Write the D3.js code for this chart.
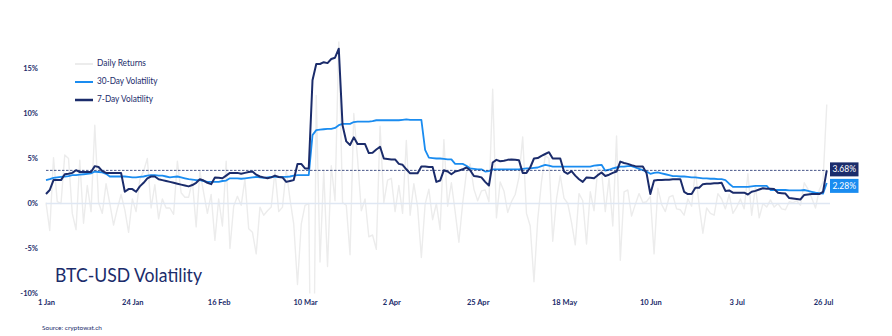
<!DOCTYPE html>
<html>
<head>
<meta charset="utf-8">
<script src="https://cdn.jsdelivr.net/npm/d3@7"></script>
<style>
  html, body { margin: 0; padding: 0; background: #fff; }
  svg { display: block; font-family: Lato, "Open Sans", sans-serif; }
</style>
</head>
<body>
<svg id="chart" width="892" height="336"></svg>
<script>
// ---- Data (daily, 1 Jan 2020 .. 27 Jul 2020), values in % ----
const startDate = "2020-01-01";

const dailyReturns = [
  0.1,-3.0,5.1,0.2,0.0,5.4,5.0,-1.1,-2.9,4.8,-2.2,2.0,-0.9,8.7,0.1,-1.1,2.2,0.0,-2.4,-0.6,
  1.0,-0.7,-3.2,0.5,-0.9,2.7,3.6,5.0,-0.5,2.1,-1.7,0.5,-0.5,-0.5,-1.2,4.7,1.2,0.7,0.7,2.5,
  -2.6,3.6,1.2,-1.1,1.0,-4.1,0.5,-2.5,4.7,-5.0,-0.3,0.8,-0.2,2.7,-2.8,-3.2,-5.6,-0.4,-1.3,-0.8,
  -0.4,3.6,-0.9,-0.4,3.7,0.5,-2.3,-9.0,-2.3,-0.2,0.0,-37.0,12.0,-6.5,3.7,-7.0,4.2,0.3,18.2,0.1,
  -0.2,-5.7,10.0,5.0,-0.8,0.5,-3.7,-3.5,-5.1,8.6,0.1,2.6,2.8,-0.9,2.0,-1.1,7.0,-1.3,2.2,-0.4,
  -6.0,-0.1,1.6,-1.8,0.0,-2.9,7.1,-0.3,2.3,-0.9,-4.3,0.0,3.4,4.4,1.6,0.3,1.4,1.5,0.2,12.7,
  -1.6,2.4,1.4,-1.0,0.2,1.0,2.9,7.4,-1.1,-2.5,-8.7,-1.8,2.4,5.3,5.0,-4.2,0.5,3.1,0.6,0.0,
  -2.1,-4.6,1.1,0.3,-4.5,1.3,-0.8,3.9,3.7,-0.9,2.8,-2.5,7.5,-6.3,1.3,1.5,-1.4,-0.1,1.1,0.1,
  0.2,0.8,-5.6,1.7,-0.1,-0.9,0.7,0.9,-0.6,-0.7,-1.3,0.5,-0.3,3.7,-0.2,-3.3,-0.5,-1.1,-1.3,1.1,
  0.5,-0.6,1.0,-1.1,-0.4,0.5,-0.6,3.3,-1.3,1.9,-1.6,0.0,-0.4,0.4,-0.4,0.0,-0.6,-0.7,0.2,0.1,
  0.3,-0.2,2.3,1.6,0.6,-0.5,1.5,2.4,11.0
];

const vol30 = [
  2.6,2.7,2.85,2.9,2.95,3.0,3.05,3.15,3.15,3.2,3.25,3.3,3.35,3.55,3.5,3.45,3.3,3.0,3.0,3.0,
  3.0,3.0,2.95,2.9,2.9,2.95,3.0,3.1,3.15,3.15,3.1,3.1,3.0,2.9,2.95,3.0,2.9,2.8,2.7,2.65,
  2.6,2.6,2.5,2.4,2.4,2.4,2.4,2.5,2.55,2.8,2.8,2.8,2.75,2.8,2.85,2.9,2.95,2.9,2.85,2.9,
  2.95,2.95,2.95,2.95,2.95,3.0,3.1,3.15,3.15,3.15,3.15,7.6,8.15,8.2,8.25,8.3,8.3,8.4,8.7,8.85,
  8.85,8.85,9.05,9.1,9.1,9.1,9.1,9.15,9.25,9.25,9.25,9.25,9.25,9.25,9.25,9.3,9.35,9.3,9.3,9.3,
  9.3,5.95,5.1,5.05,5.0,5.0,4.95,4.9,4.9,4.4,4.4,4.4,4.2,3.9,3.85,3.8,3.8,3.55,3.6,3.8,
  3.8,3.8,3.8,3.8,3.8,3.8,3.8,3.85,3.9,3.9,3.95,4.0,4.15,4.3,4.2,4.1,4.1,4.1,4.1,4.1,
  4.1,4.1,4.1,4.1,4.1,4.1,4.2,4.25,4.3,3.65,3.75,3.9,4.0,4.1,4.1,4.15,4.15,4.0,3.85,3.7,
  3.55,3.3,3.4,3.45,3.35,3.25,3.15,3.05,3.05,3.0,3.0,2.95,2.9,2.9,2.85,2.8,2.8,2.75,2.75,2.7,
  2.7,2.6,2.2,1.85,1.85,1.85,1.85,1.85,1.9,1.95,1.95,1.95,1.95,1.5,1.5,1.5,1.5,1.5,1.45,1.45,
  1.45,1.45,1.5,1.4,1.3,1.2,1.15,1.1,2.28
];

const vol7 = [
  1.06,1.5,2.6,2.6,2.6,3.25,3.3,3.4,3.7,3.5,3.5,3.5,3.5,4.15,4.05,3.6,3.4,3.4,3.4,3.4,
  3.4,1.3,1.6,1.6,1.3,1.9,2.3,2.8,3.0,3.0,2.7,2.6,2.5,2.4,2.3,2.2,2.1,2.0,1.9,2.05,
  2.3,2.7,2.55,2.3,2.15,2.9,2.85,2.8,3.1,3.4,3.4,3.4,3.3,3.4,3.5,3.55,3.2,3.0,2.9,2.8,
  2.9,3.1,2.95,2.9,2.4,2.5,2.6,4.4,4.4,3.9,3.9,13.7,15.5,15.5,15.7,15.6,16.05,16.2,17.2,8.7,
  6.9,6.5,7.35,6.6,6.6,6.6,5.6,5.65,6.0,6.3,5.0,4.95,4.9,4.9,4.4,4.3,3.8,3.35,3.35,3.35,
  4.1,4.1,4.05,4.05,2.4,2.55,3.7,3.55,3.25,3.55,3.65,3.8,4.0,3.7,3.05,3.0,2.9,2.4,2.0,4.55,
  4.85,4.7,4.75,4.85,4.9,4.85,4.8,3.4,3.4,4.0,5.0,5.05,5.3,5.5,5.7,5.0,5.0,5.0,3.55,3.3,
  3.6,3.1,2.7,2.4,2.9,2.85,2.8,3.15,3.45,3.05,3.2,3.4,3.55,4.65,4.5,4.4,4.25,4.15,4.1,4.1,
  3.35,1.05,2.55,2.6,2.6,2.65,2.65,2.7,2.7,2.7,1.3,1.05,1.05,1.75,1.75,2.15,2.2,2.2,2.25,2.25,
  2.3,1.4,1.45,1.2,1.2,1.2,1.2,1.0,1.3,1.4,1.55,1.7,1.65,1.65,1.6,1.2,1.15,1.1,0.6,0.55,
  0.5,0.45,0.95,1.0,1.05,1.05,1.05,1.3,3.68
];

const yTicks = [-10, -5, 0, 5, 10, 15];
const xTickLabels = ["1 Jan","24 Jan","16 Feb","10 Mar","2 Apr","25 Apr","18 May","10 Jun","3 Jul","26 Jul"];
const seriesNames = ["Daily Returns", "30-Day Volatility", "7-Day Volatility"];
const titleText = "BTC-USD Volatility";
const sourceText = "Source: cryptowat.ch";

// ---- Styles ----
const NAVY = "#1b2c6b";
const BLUE = "#1a8cf0";
const GRAY = "#ececec";
const ZERO = "#dfe7f3";

const svg = d3.select("#chart");
const start = new Date(startDate + "T00:00:00Z");
const dates = dailyReturns.map((_, i) => d3.utcDay.offset(start, i));

const x = d3.scaleUtc()
  .domain([start, d3.utcDay.offset(start, 207)])
  .range([46, 823]);
const y = d3.scaleLinear().domain([-10, 18]).range([293.5, 41.5]);

// fit a text element to a target width
function fitWidth(sel, w) {
  sel.each(function () {
    const cur = this.getComputedTextLength();
    if (cur > 0) d3.select(this).attr("textLength", w).attr("lengthAdjust", "spacingAndGlyphs");
  });
}

// clip
svg.append("defs").append("clipPath").attr("id", "plotclip")
  .append("rect").attr("x", 40).attr("y", y(18)).attr("width", 800).attr("height", y(-10) - y(18));

// Y axis
const yAxis = d3.axisLeft(y).tickValues(yTicks).tickSize(0).tickPadding(0)
  .tickFormat(d => d + "%");
const gy = svg.append("g").attr("transform", "translate(38,0)").call(yAxis);
gy.select(".domain").remove();
gy.selectAll("text").attr("font-family", "Lato, sans-serif").attr("font-size", 7.5)
  .attr("font-weight", 700).attr("fill", NAVY);

// X axis
const tickDates = xTickLabels.map((_, i) => d3.utcDay.offset(start, i * 23));
const xAxis = d3.axisBottom(x).tickValues(tickDates).tickSize(0).tickPadding(0)
  .tickFormat((d, i) => xTickLabels[i]);
const gx = svg.append("g").attr("transform", "translate(0,300)").call(xAxis);
gx.select(".domain").remove();
gx.selectAll("text").attr("font-family", "Lato, sans-serif").attr("font-size", 7.5)
  .attr("font-weight", 700).attr("fill", NAVY);

const plot = svg.append("g").attr("clip-path", "url(#plotclip)");

// daily returns
const line = d3.line().x((d, i) => x(dates[i])).y(d => y(d));
plot.append("path").datum(dailyReturns).attr("d", line)
  .attr("fill", "none").attr("stroke", GRAY).attr("stroke-width", 1.4)
  .attr("stroke-linejoin", "round");

// zero line
svg.append("line").attr("x1", x(start)).attr("x2", 830)
  .attr("y1", y(0)).attr("y2", y(0)).attr("stroke", ZERO).attr("stroke-width", 1.5);

// dashed current level
const last7 = vol7[vol7.length - 1];
const last30 = vol30[vol30.length - 1];
svg.append("line").attr("x1", x(start)).attr("x2", x(dates[dates.length - 1]))
  .attr("y1", y(last7)).attr("y2", y(last7))
  .attr("stroke", NAVY).attr("stroke-width", 0.8).attr("stroke-dasharray", "2.5,1.5");

// 30 day
plot.append("path").datum(vol30).attr("d", line)
  .attr("fill", "none").attr("stroke", BLUE).attr("stroke-width", 1.8)
  .attr("stroke-linejoin", "round");
// 7 day
plot.append("path").datum(vol7).attr("d", line)
  .attr("fill", "none").attr("stroke", NAVY).attr("stroke-width", 2)
  .attr("stroke-linejoin", "round");

// end labels
const bx = 830, bw = 28.5, bh = 14;
const by1 = y(last7) - 8;
const by2 = by1 + 16.5;
[[by1, NAVY, last7], [by2, BLUE, last30]].forEach(([yy, col, v]) => {
  svg.append("rect").attr("x", bx).attr("y", yy).attr("width", bw).attr("height", bh).attr("fill", col);
  svg.append("text").attr("x", bx + bw / 2).attr("y", yy + bh / 2 + 0.5)
    .attr("text-anchor", "middle").attr("dominant-baseline", "middle")
    .attr("font-size", 8.5).attr("fill", "#fff").text(v.toFixed(2) + "%");
});

// legend
const legend = svg.append("g");
const legendStyles = [
  { color: GRAY, w: 2, tw: 49 },
  { color: BLUE, w: 2, tw: 60.5 },
  { color: NAVY, w: 2.5, tw: 56 }
];
seriesNames.forEach((name, i) => {
  const ly = 64 + i * 18;
  legend.append("line").attr("x1", 75).attr("x2", 93).attr("y1", ly).attr("y2", ly)
    .attr("stroke", legendStyles[i].color).attr("stroke-width", legendStyles[i].w);
  legend.append("text").attr("x", 97).attr("y", ly).attr("dominant-baseline", "middle")
    .attr("font-size", 9).attr("fill", NAVY).text(name)
    .call(fitWidth, legendStyles[i].tw);
});

// title
svg.append("text").attr("x", 55).attr("y", 281.5).attr("font-size", 19.5)
  .attr("fill", NAVY).text(titleText).call(fitWidth, 147);

// source
svg.append("text").attr("x", 42).attr("y", 330).attr("font-size", 6.5)
  .attr("fill", NAVY).text(sourceText).call(fitWidth, 60);
</script>
</body>
</html>
